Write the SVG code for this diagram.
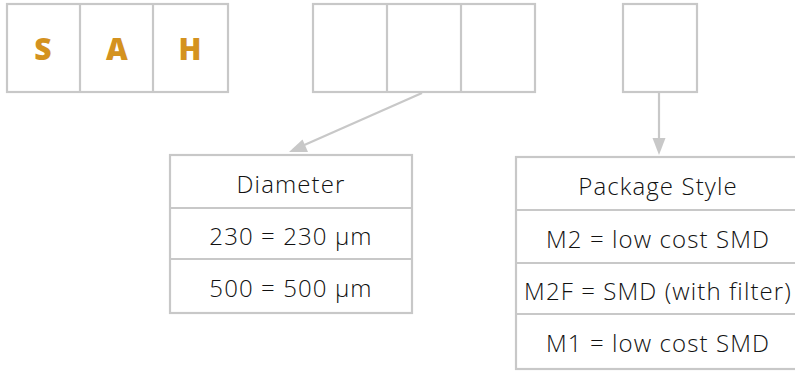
<svg xmlns="http://www.w3.org/2000/svg" width="795" height="371" viewBox="0 0 795 371">
<style>
.b{fill:#fff;stroke:#c8c8c8;stroke-width:2.2}
.l{stroke:#c8c8c8;stroke-width:2.2;fill:none}
.c{font-family:"Open Sans","Liberation Sans",sans-serif;font-weight:800;font-size:30px;fill:#d4921f;text-anchor:middle}
.t{font-family:"Open Sans","Liberation Sans",sans-serif;font-weight:300;font-size:24px;letter-spacing:1.1px;fill:#111111;text-anchor:middle}
</style>
<g id="code-sah">
<rect class="b" x="7" y="4" width="221" height="88"/>
<line class="l" x1="80" y1="4" x2="80" y2="92"/>
<line class="l" x1="153" y1="4" x2="153" y2="92"/>
<text class="c" x="43" y="60">S</text>
<text class="c" x="117" y="60">A</text>
<text class="c" x="190" y="60">H</text>
</g>
<g id="code-diameter">
<rect class="b" x="313" y="4" width="222" height="88"/>
<line class="l" x1="387" y1="4" x2="387" y2="92"/>
<line class="l" x1="461" y1="4" x2="461" y2="92"/>
</g>
<g id="code-package">
<rect class="b" x="623" y="4" width="74" height="88"/>
</g>
<g id="connectors">
<line class="l" x1="422" y1="93" x2="293" y2="150"/>
<path d="M289,152 L302.5,139.5 L308,152 Z" fill="#c8c8c8"/>
<line class="l" x1="659" y1="93" x2="659" y2="140"/>
<path d="M652.5,138 L665.5,138 L659,155 Z" fill="#c8c8c8"/>
</g>
<g id="diameter-table">
<rect class="b" x="170" y="155" width="242" height="158"/>
<line class="l" x1="170" y1="208" x2="412" y2="208"/>
<line class="l" x1="170" y1="259" x2="412" y2="259"/>
<text class="t" x="291" y="193">Diameter</text>
<text class="t" x="291" y="245">230 = 230 µm</text>
<text class="t" x="291" y="297">500 = 500 µm</text>
</g>
<g id="package-table">
<rect class="b" x="516" y="157" width="284" height="212"/>
<line class="l" x1="516" y1="210" x2="800" y2="210"/>
<line class="l" x1="516" y1="263" x2="800" y2="263"/>
<line class="l" x1="516" y1="314" x2="800" y2="314"/>
<text class="t" x="658" y="195">Package Style</text>
<text class="t" x="658" y="248">M2 = low cost SMD</text>
<text class="t" x="658" y="300">M2F = SMD (with filter)</text>
<text class="t" x="658" y="352">M1 = low cost SMD</text>
</g>
</svg>
